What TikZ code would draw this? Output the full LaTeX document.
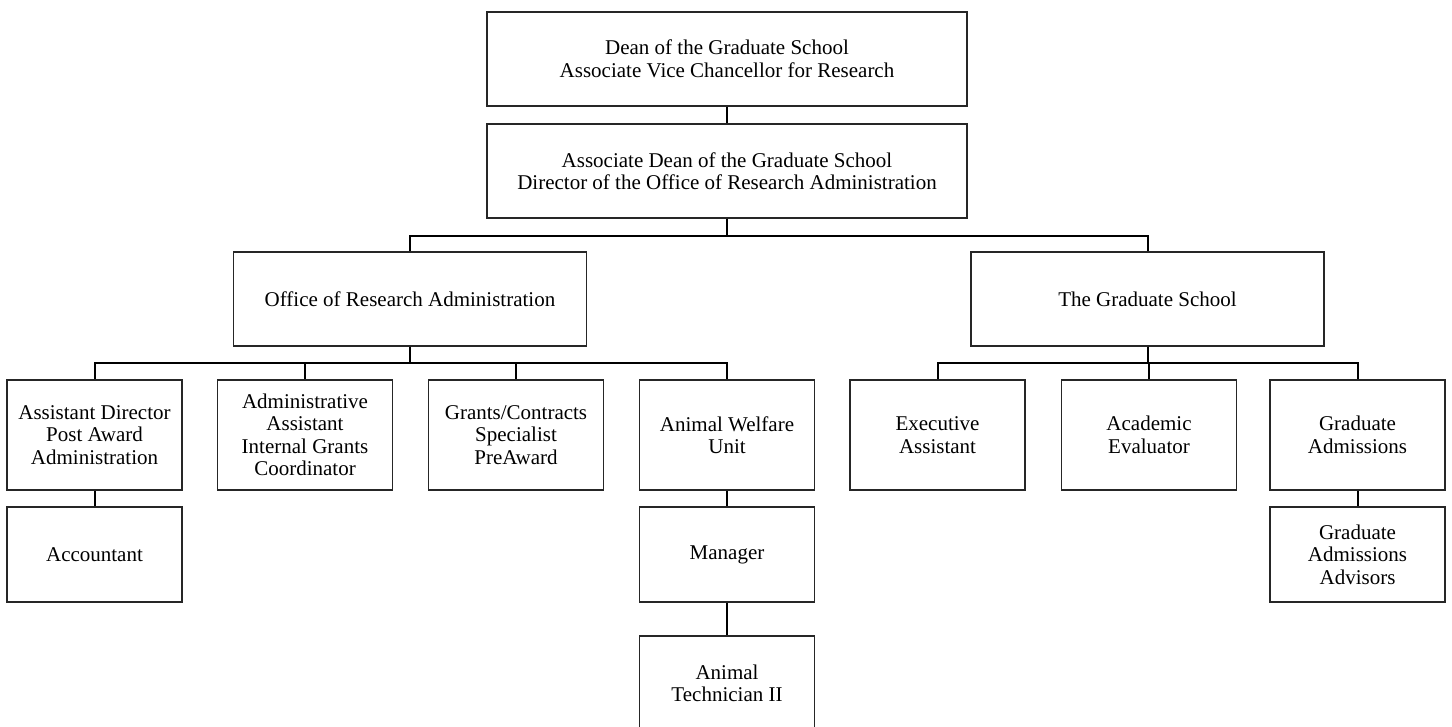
\documentclass[tikz,border=0pt]{standalone}
\usepackage{fontspec}
\setmainfont{Liberation Serif}
\begin{document}
\begin{tikzpicture}[x=1pt,y=-1pt,
  unit/.style={draw=black!85,line width=1.1pt,fill=white,align=center,
    inner sep=0pt,font=\fontsize{21}{22.5}\selectfont},
  wide/.style={unit,minimum width=480pt,minimum height=94pt},
  dept/.style={unit,minimum width=353pt,minimum height=94pt},
  post/.style={unit,minimum width=175pt,minimum height=110pt},
  staff/.style={unit,minimum width=175pt,minimum height=95pt},
  link/.style={draw=black,line width=2pt}]
\useasboundingbox (0,0) rectangle (1452,726);

% top of the hierarchy
\node[wide] (dean)  at (727,59)  {Dean of the Graduate School\\Associate Vice Chancellor for Research};
\node[wide] (assoc) at (727,171) {Associate Dean of the Graduate School\\Director of the Office of Research Administration};

% the two divisions
\node[dept] (ora) at (410,299)    {Office of Research Administration};
\node[dept] (gs)  at (1147.5,299) {The Graduate School};

% units under the Office of Research Administration
\node[post] (asst)   at (94.5,435) {Assistant Director\\Post Award\\Administration};
\node[post] (admin)  at (305,435)  {Administrative\\Assistant\\Internal Grants\\Coordinator};
\node[post] (grants) at (516,435)  {Grants/Contracts\\Specialist\\PreAward};
\node[post] (awu)    at (727,435)  {Animal Welfare\\Unit};

% units under the Graduate School
\node[post] (exec) at (937.5,435)  {Executive\\Assistant};
\node[post] (acad) at (1149,435)   {Academic\\Evaluator};
\node[post] (gadm) at (1357.5,435) {Graduate\\Admissions};

% staff level
\node[staff] (acct) at (94.5,554.5)   {Accountant};
\node[staff] (mgr)  at (727,554.5)    {Manager};
\node[staff] (gaa)  at (1357.5,554.5) {Graduate\\Admissions\\Advisors};
\node[staff] (tech) at (727,683.5)    {Animal\\Technician II};

% reporting lines
\draw[link] (dean.south) -- (assoc.north);
\foreach \c in {ora,gs}
  \draw[link] (assoc.south) -- ++(0,17) -| (\c.north);
\foreach \c in {asst,admin,grants,awu}
  \draw[link] (ora.south) -- ++(0,16) -| (\c.north);
\foreach \c in {exec,acad,gadm}
  \draw[link] (gs.south) -- ++(0,16) -| (\c.north);
\draw[link] (asst.south) -- (acct.north);
\draw[link] (awu.south) -- (mgr.north);
\draw[link] (mgr.south) -- (tech.north);
\draw[link] (gadm.south) -- (gaa.north);
\end{tikzpicture}
\end{document}
